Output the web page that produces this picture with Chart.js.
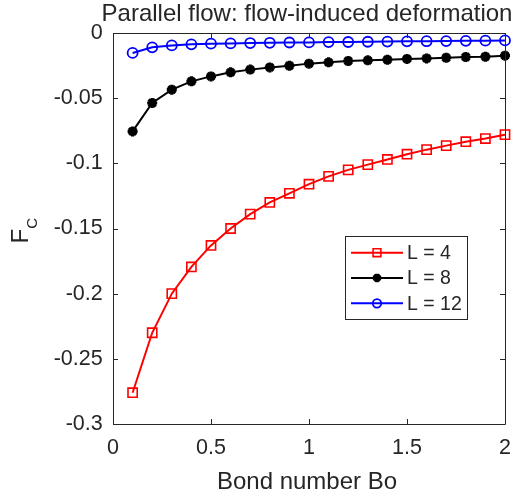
<!DOCTYPE html>
<html>
<head>
<meta charset="utf-8">
<script src="https://cdn.jsdelivr.net/npm/chart.js@4/dist/chart.umd.min.js"></script>
<style>
  html, body { margin: 0; padding: 0; background: #fff; }
  #wrap { width: 525px; height: 497px; }
</style>
</head>
<body>
<div id="wrap"><canvas id="fcChart" width="525" height="497"></canvas></div>
<script>
// Bond number values (x axis)
var bondNumbers = [0.1, 0.2, 0.3, 0.4, 0.5, 0.6, 0.7, 0.8, 0.9, 1.0,
                   1.1, 1.2, 1.3, 1.4, 1.5, 1.6, 1.7, 1.8, 1.9, 2.0];
// F_C for each length
var fcL4  = [-0.276, -0.230, -0.200, -0.1795, -0.163, -0.150, -0.139, -0.130, -0.123, -0.116,
             -0.110, -0.105, -0.101, -0.097, -0.093, -0.0895, -0.0864, -0.0834, -0.081, -0.078];
var fcL8  = [-0.0755, -0.0537, -0.0435, -0.0371, -0.0333, -0.0302, -0.0281, -0.0264, -0.0251, -0.0235,
             -0.0225, -0.0215, -0.0210, -0.0205, -0.0199, -0.0195, -0.0190, -0.0184, -0.0182, -0.0174];
var fcL12 = [-0.0153, -0.0110, -0.0095, -0.0087, -0.0082, -0.0080, -0.0077, -0.0075, -0.0073, -0.0072,
             -0.0070, -0.0069, -0.0067, -0.0066, -0.0064, -0.0063, -0.0062, -0.0060, -0.0059, -0.0057];
var seriesLabels = ['L = 4', 'L = 8', 'L = 12'];

var titleText = 'Parallel flow: flow-induced deformation';
var xTitle = 'Bond number Bo';
var yTitleMain = 'F';
var yTitleSub = 'C';

var axisColor = '#262626';
var fontFamily = '"Liberation Sans", Arial, Helvetica, sans-serif';

function toPoints(ys) {
    return bondNumbers.map(function (x, i) { return { x: x, y: ys[i] }; });
}

// draws one marker like matlab does it
function drawMarker(ctx, style, x, y, r, color, bw) {
    ctx.save();
    ctx.strokeStyle = color;
    ctx.lineWidth = bw;
    ctx.beginPath();
    if (style === 'rect') {
        var s = Math.SQRT1_2 * r;
        ctx.rect(x - s, y - s, 2 * s, 2 * s);
    } else if (style === 'circle') {
        ctx.arc(x, y, r, 0, Math.PI * 2);
    } else if (style === 'star') {
        for (var k = 0; k < 4; k++) {
            var a = k * Math.PI / 4;
            ctx.moveTo(x - Math.cos(a) * r, y - Math.sin(a) * r);
            ctx.lineTo(x + Math.cos(a) * r, y + Math.sin(a) * r);
        }
    }
    ctx.stroke();
    ctx.restore();
}

// box, inward ticks, titles and legend
var matlabLook = {
    id: 'matlabLook',
    afterDatasetsDraw: function (chart) {
        var ctx = chart.ctx;
        var a = chart.chartArea;
        var xs = chart.scales.x, ys = chart.scales.y;
        ctx.save();
        ctx.strokeStyle = axisColor;
        ctx.lineWidth = 1;
        ctx.beginPath();
        ctx.rect(Math.round(a.left) + 0.5, Math.round(a.top) + 0.5,
                 Math.round(a.right - a.left), Math.round(a.bottom - a.top));
        ctx.stroke();

        var tl = 5;
        ctx.beginPath();
        xs.ticks.forEach(function (t) {
            var px = Math.round(xs.getPixelForValue(t.value)) + 0.5;
            ctx.moveTo(px, a.bottom); ctx.lineTo(px, a.bottom - tl);
            ctx.moveTo(px, a.top); ctx.lineTo(px, a.top + tl);
        });
        ys.ticks.forEach(function (t) {
            var py = Math.round(ys.getPixelForValue(t.value)) + 0.5;
            ctx.moveTo(a.left, py); ctx.lineTo(a.left + tl, py);
            ctx.moveTo(a.right, py); ctx.lineTo(a.right - tl, py);
        });
        ctx.stroke();

        // title and axis labels
        var cx = (a.left + a.right) / 2 - 2;
        ctx.fillStyle = axisColor;
        ctx.textAlign = 'center';
        ctx.textBaseline = 'alphabetic';
        ctx.font = '24px ' + fontFamily;
        ctx.fillText(titleText, cx, 21);
        ctx.fillText(xTitle, cx, 488.5);

        ctx.save();
        ctx.translate(27.5, 243.5);
        ctx.rotate(-Math.PI / 2);
        ctx.textAlign = 'left';
        ctx.font = '24px ' + fontFamily;
        ctx.fillText(yTitleMain, 0, 0);
        var fw = ctx.measureText(yTitleMain).width;
        ctx.font = '15px ' + fontFamily;
        ctx.fillText(yTitleSub, fw, 9);
        ctx.restore();

        // legend
        var lx = 345.5, ly = 236.5, lw = 122, lh = 83;
        ctx.fillStyle = '#fff';
        ctx.fillRect(lx, ly, lw, lh);
        ctx.strokeStyle = axisColor;
        ctx.lineWidth = 1;
        ctx.strokeRect(lx, ly, lw, lh);
        var rows = [252.7, 277.9, 303.3];
        chart.data.datasets.forEach(function (ds, i) {
            var yy = rows[i];
            ctx.strokeStyle = ds.borderColor;
            ctx.lineWidth = ds.borderWidth;
            ctx.beginPath();
            ctx.moveTo(351, yy); ctx.lineTo(403, yy);
            ctx.stroke();
            drawMarker(ctx, ds.pointStyle, 377, yy, ds.pointRadius * 0.85, ds.borderColor, ds.pointBorderWidth);
            ctx.fillStyle = axisColor;
            ctx.font = '19.5px ' + fontFamily;
            ctx.textAlign = 'left';
            ctx.textBaseline = 'middle';
            ctx.fillText(ds.label, 407, yy + 1);
        });
        ctx.restore();
    }
};

var tickFont = { family: fontFamily, size: 21.5 };

new Chart(document.getElementById('fcChart'), {
    type: 'line',
    data: {
        datasets: [{
            label: seriesLabels[0],
            data: toPoints(fcL4),
            borderColor: '#ff0000',
            backgroundColor: '#ff0000',
            borderWidth: 2,
            pointStyle: 'rect',
            pointRadius: 6.5,
            pointBorderWidth: 1.6,
            pointBackgroundColor: 'rgba(0,0,0,0)',
            clip: false
        }, {
            label: seriesLabels[1],
            data: toPoints(fcL8),
            borderColor: '#000000',
            backgroundColor: '#000000',
            borderWidth: 2,
            pointStyle: 'star',
            pointRadius: 5,
            pointBorderWidth: 3.2,
            clip: false
        }, {
            label: seriesLabels[2],
            data: toPoints(fcL12),
            borderColor: '#0000ff',
            backgroundColor: '#0000ff',
            borderWidth: 2,
            pointStyle: 'circle',
            pointRadius: 5,
            pointBorderWidth: 1.8,
            pointBackgroundColor: 'rgba(0,0,0,0)',
            clip: false
        }]
    },
    options: {
        responsive: false,
        animation: false,
        devicePixelRatio: 1,
        layout: { padding: { top: 33, right: 20, left: 0, bottom: 0 } },
        elements: { line: { tension: 0 } },
        plugins: {
            legend: { display: false },
            title: { display: false },
            tooltip: { enabled: false }
        },
        scales: {
            x: {
                type: 'linear',
                min: 0, max: 2,
                afterFit: function (s) { s.height = 73; },
                grid: { display: false, drawTicks: false },
                border: { display: false },
                ticks: {
                    stepSize: 0.5,
                    padding: 11,
                    color: axisColor,
                    font: tickFont,
                    maxRotation: 0,
                    callback: function (v) { return String(+v.toFixed(2)); }
                }
            },
            y: {
                type: 'linear',
                min: -0.3, max: 0,
                afterFit: function (s) { s.width = 113; },
                grid: { display: false, drawTicks: false },
                border: { display: false },
                ticks: {
                    stepSize: 0.05,
                    padding: 10.3,
                    color: axisColor,
                    font: tickFont,
                    callback: function (v) { return String(+v.toFixed(2)); }
                }
            }
        }
    },
    plugins: [matlabLook]
});
</script>
</body>
</html>
